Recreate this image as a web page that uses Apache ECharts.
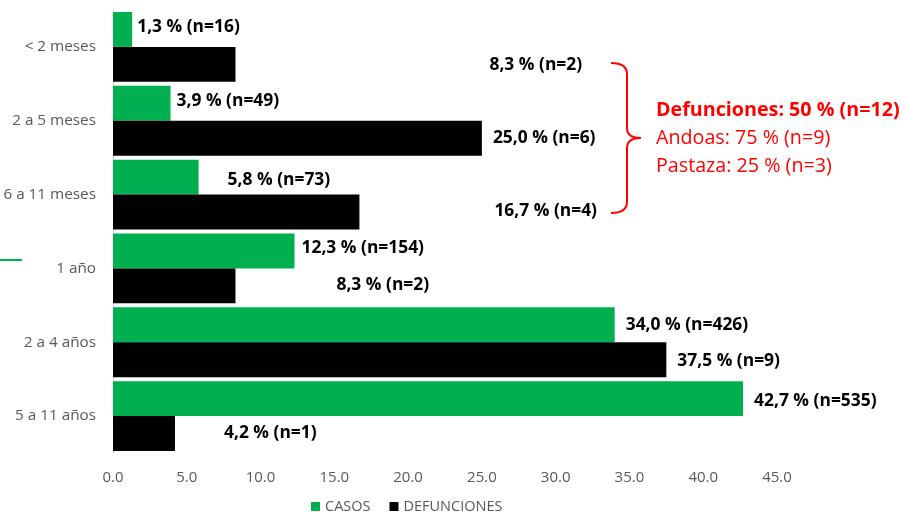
<!DOCTYPE html>
<html>
<head>
<meta charset="utf-8">
<script src="https://cdn.jsdelivr.net/npm/echarts@6/dist/echarts.min.js"></script>
<style>html,body{margin:0;padding:0;background:#fff}#c{width:904px;height:512px}</style>
</head>
<body>
<div id="c"></div>
<script>
const categories = ['< 2 meses', '2 a 5 meses', '6 a 11 meses', '1 año', '2 a 4 años', '5 a 11 años'];
const casosPct = [1.3, 3.9, 5.8, 12.3, 34.0, 42.7];
const casosN = [16, 49, 73, 154, 426, 535];
const defPct = [8.3, 25.0, 16.7, 8.3, 37.5, 4.2];
const defN = [2, 6, 4, 2, 9, 1];
const xTicks = { min: 0, max: 45, interval: 5 };

// label nudges (layout only)
const casosShift = [[0, -2], [1, -2], [24, 3], [2, -3], [6, 0], [6, 2]];
const defShift = [[249, 1], [6, 0], [130, -1], [96, -1], [6, 1], [44, 0]];

const FONT = '"Open Sans"';
function fmt(v, n) { return v.toFixed(1).replace('.', ',') + ' % (n=' + n + ')'; }
function build(vals, ns, shifts) {
  return vals.map((v, i) => ({
    value: v,
    label: { offset: shifts[i], formatter: fmt(v, ns[i]) }
  }));
}
const lblStyle = { show: true, position: 'right', distance: 5, color: '#000', fontWeight: 'bold', fontSize: 17.4, fontFamily: FONT };

const chart = echarts.init(document.getElementById('c'));
chart.setOption({
  animation: false,
  grid: { left: 113, right: 127, top: 10, bottom: 59, containLabel: false },
  legend: {
    top: 494, left: 306, icon: 'rect', itemWidth: 9, itemHeight: 9, itemGap: 19,
    textStyle: { color: '#595959', fontSize: 14.5, fontFamily: FONT },
    data: ['CASOS', 'DEFUNCIONES']
  },
  xAxis: {
    type: 'value', min: xTicks.min, max: xTicks.max, interval: xTicks.interval,
    axisLine: { show: false }, axisTick: { show: false }, splitLine: { show: false },
    axisLabel: { color: '#595959', fontSize: 15, fontFamily: FONT, margin: 17, formatter: v => v.toFixed(1) }
  },
  yAxis: {
    type: 'category', data: categories, inverse: true,
    axisLine: { show: true, lineStyle: { color: '#d9d9d9', width: 1 } },
    axisTick: { show: false },
    axisLabel: { color: '#595959', fontSize: 15.3, fontFamily: FONT, margin: 17 }
  },
  series: [
    { name: 'CASOS', type: 'bar', data: build(casosPct, casosN, casosShift), itemStyle: { color: '#00B050' },
      barGap: '0%', barCategoryGap: '5.4%', label: lblStyle },
    { name: 'DEFUNCIONES', type: 'bar', data: build(defPct, defN, defShift), itemStyle: { color: '#000000' },
      barGap: '0%', barCategoryGap: '5.4%', label: lblStyle }
  ],
  graphic: [
    { type: 'bezierCurve', shape: { x1: 611, y1: 63, cpx1: 627, cpy1: 63, x2: 627, y2: 74 }, style: { stroke: '#ff0000', lineWidth: 2, fill: null } },
    { type: 'line', shape: { x1: 627, y1: 74, x2: 627, y2: 128 }, style: { stroke: '#ff0000', lineWidth: 2 } },
    { type: 'bezierCurve', shape: { x1: 627, y1: 128, cpx1: 627, cpy1: 138, x2: 641, y2: 138 }, style: { stroke: '#ff0000', lineWidth: 2, fill: null } },
    { type: 'bezierCurve', shape: { x1: 641, y1: 138, cpx1: 627, cpy1: 138, x2: 627, y2: 148 }, style: { stroke: '#ff0000', lineWidth: 2, fill: null } },
    { type: 'line', shape: { x1: 627, y1: 148, x2: 627, y2: 202 }, style: { stroke: '#ff0000', lineWidth: 2 } },
    { type: 'bezierCurve', shape: { x1: 627, y1: 202, cpx1: 627, cpy1: 213, x2: 611, y2: 213 }, style: { stroke: '#ff0000', lineWidth: 2, fill: null } },
    { type: 'text', style: { x: 656, y: 110, verticalAlign: 'middle', text: 'Defunciones: 50 % (n=12)', fill: '#ff0000', font: 'bold 19.7px ' + FONT } },
    { type: 'text', style: { x: 656, y: 138, verticalAlign: 'middle', text: 'Andoas: 75 % (n=9)', fill: '#ff0000', font: '19.7px ' + FONT } },
    { type: 'text', style: { x: 656, y: 166, verticalAlign: 'middle', text: 'Pastaza: 25 % (n=3)', fill: '#ff0000', font: '19.7px ' + FONT } },
    { type: 'line', shape: { x1: 0, y1: 260, x2: 22, y2: 260 }, style: { stroke: '#00B050', lineWidth: 2 } }
  ]
});
</script>
</body>
</html>
